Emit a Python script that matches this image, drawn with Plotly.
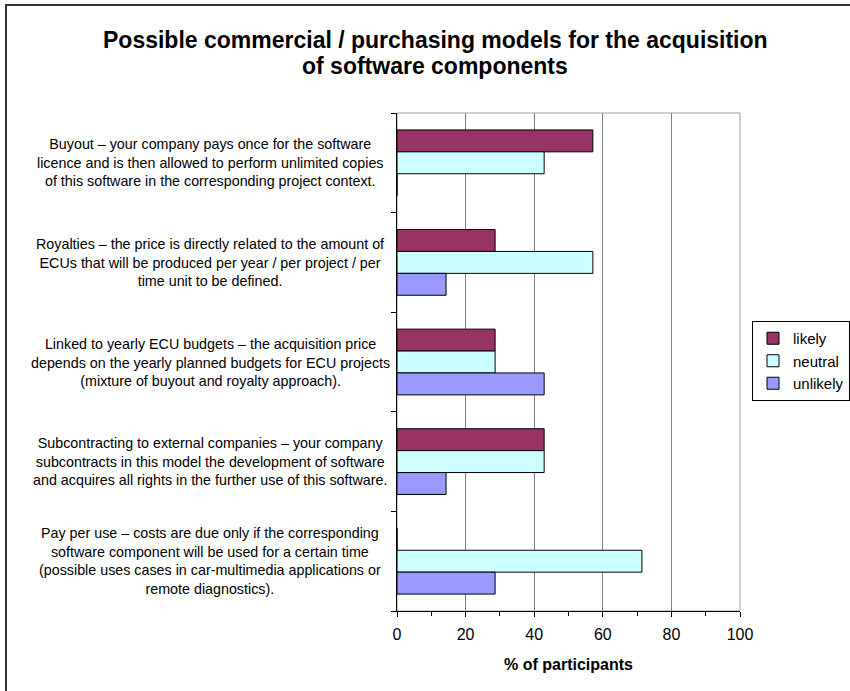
import plotly.graph_objects as go

categories = [
    "Buyout – your company pays once for the software<br>licence and is then allowed to perform unlimited copies<br>of this software in the corresponding project context.",
    "Royalties – the price is directly related to the amount of<br>ECUs that will be produced per year / per project / per<br>time unit to be defined.",
    "Linked to yearly ECU budgets – the acquisition price<br>depends on the yearly planned budgets for ECU projects<br>(mixture of buyout and royalty approach).",
    "Subcontracting to external companies – your company<br>subcontracts in this model the development of software<br>and acquires all rights in the further use of this software.",
    "Pay per use – costs are due only if the corresponding<br>software component will be used for a certain time<br>(possible uses cases in car-multimedia applications or<br>remote diagnostics).",
]
likely = [57.1, 28.6, 28.6, 42.9, 0]
neutral = [42.9, 57.1, 28.6, 42.9, 71.4]
unlikely = [0, 14.3, 42.9, 14.3, 28.6]
series_names = ["likely", "neutral", "unlikely"]
series_colors = ["#993366", "#CCFFFF", "#9999FF"]
x_ticks = [0, 20, 40, 60, 80, 100]
title_lines = ["Possible commercial / purchasing models for the acquisition",
               "of software components"]

FONT = "Arial, Liberation Sans, sans-serif"
W, H = 850, 691
L, R, T, B = 397, 110, 113, 80
pw, ph = W - L - R, H - T - B

def px_x(p):
    return (p - L) / pw

def px_y(p):
    return (H - B - p) / ph

ypos = list(range(len(categories)))

fig = go.Figure()
for name, vals, col in zip(series_names, [likely, neutral, unlikely], series_colors):
    fig.add_trace(go.Bar(
        y=ypos, x=vals, name=name, orientation="h",
        marker=dict(color=col, line=dict(color="black", width=1)),
    ))

annotations = []
for i, c in enumerate(categories):
    annotations.append(dict(
        x=px_x(210), xref="paper", y=i, yref="y", text=c, showarrow=False,
        xanchor="center", yanchor="middle", align="center",
        font=dict(family=FONT, size=14.3, color="black"),
    ))
for line, yy in zip(title_lines, [40, 66]):
    annotations.append(dict(
        x=px_x(435), xref="paper", y=px_y(yy), yref="paper",
        text="<b>" + line + "</b>",
        showarrow=False, xanchor="center", yanchor="middle",
        font=dict(family=FONT, size=23, color="black"),
    ))

shapes = [
    dict(type="rect", xref="paper", yref="paper",
         x0=px_x(6), x1=px_x(880), y0=px_y(720), y1=px_y(5),
         line=dict(color="#333333", width=2), layer="below"),
    dict(type="rect", xref="paper", yref="paper", x0=0, x1=1, y0=0, y1=1,
         line=dict(color="#a0a0a0", width=1), layer="below"),
]

fig.update_layout(
    width=W, height=H,
    margin=dict(l=L, r=R, t=T, b=B, autoexpand=False),
    paper_bgcolor="white", plot_bgcolor="white",
    barmode="group", bargap=0.34, bargroupgap=0,
    font=dict(family=FONT, size=14, color="black"),
    showlegend=True,
    legend=dict(
        x=px_x(752), y=px_y(321), xanchor="left", yanchor="top",
        bordercolor="black", borderwidth=1, bgcolor="white",
        font=dict(family=FONT, size=15), traceorder="normal",
        itemwidth=30, tracegroupgap=0,
    ),
    annotations=annotations,
    shapes=shapes,
    xaxis=dict(
        range=[0, 100], tickvals=x_ticks, showgrid=True, gridcolor="#808080", gridwidth=1,
        showline=True, linecolor="black", linewidth=1, ticks="outside", ticklen=5,
        tickcolor="black", tickfont=dict(family=FONT, size=16), ticklabelstandoff=4,
        minor=dict(dtick=10, ticks="outside", ticklen=4, tickcolor="black", showgrid=False),
        title=dict(text="<b>% of participants</b>", font=dict(family=FONT, size=16), standoff=16),
        zeroline=False,
    ),
    yaxis=dict(
        range=[len(categories) - 0.5, -0.5], tickvals=[i - 0.5 for i in range(len(categories) + 1)],
        showticklabels=False, ticks="outside", ticklen=5, tickcolor="black",
        showline=True, linecolor="black", linewidth=1, showgrid=False, zeroline=False,
    ),
)

fig.write_html("out.html", config={"displayModeBar": False},
               post_script="document.body.style.margin='0';")
